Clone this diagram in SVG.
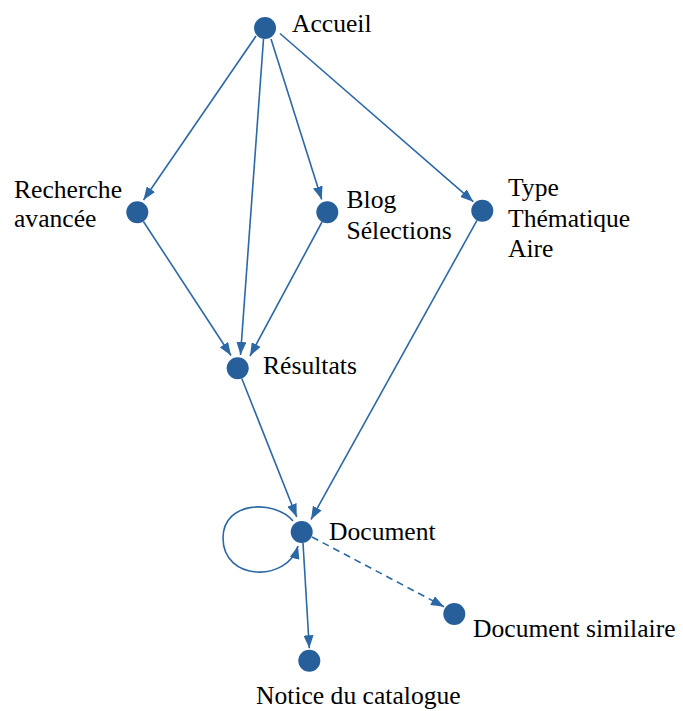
<svg xmlns="http://www.w3.org/2000/svg" width="683" height="711" viewBox="0 0 683 711">
<defs>
<style>
.node{fill:#265f99}
.lbl{font-family:"Liberation Serif","Times New Roman",serif;font-size:25.6px;fill:#000}
.edge{fill:none;stroke:#2d68a6;stroke-width:1.6}
.dash{stroke-dasharray:7 5}
</style>
<marker id="arr" viewBox="0 0 13 10" refX="13" refY="5" markerWidth="13" markerHeight="10" markerUnits="userSpaceOnUse" orient="auto">
<path d="M0,0 L13,5 L0,10 z" fill="#2d68a6"/>
</marker>
</defs>
<rect width="683" height="711" fill="#fff"/>
<g id="connectors">
<line class="edge" x1="256" y1="36" x2="143.5" y2="200" marker-end="url(#arr)"/>
<line class="edge" x1="263.5" y1="39" x2="240.5" y2="355" marker-end="url(#arr)"/>
<line class="edge" x1="271" y1="39" x2="321.7" y2="199.5" marker-end="url(#arr)"/>
<line class="edge" x1="280" y1="33.5" x2="473.3" y2="201.7" marker-end="url(#arr)"/>
<line class="edge" x1="143.4" y1="221.5" x2="231" y2="355.5" marker-end="url(#arr)"/>
<line class="edge" x1="322" y1="222" x2="250" y2="356" marker-end="url(#arr)"/>
<line class="edge" x1="477" y1="220.3" x2="311" y2="519.5" marker-end="url(#arr)"/>
<line class="edge" x1="241.8" y1="378.5" x2="296.7" y2="517" marker-end="url(#arr)"/>
<line class="edge" x1="303" y1="543" x2="309.3" y2="648.3" marker-end="url(#arr)"/>
<line class="edge dash" x1="312" y1="537" x2="444" y2="606.7" marker-end="url(#arr)"/>
<path class="edge" d="M293,521 C276,500 223,500 223,538 C223,582 288,582 298,546" marker-end="url(#arr)"/>
</g>
<g id="accueil"><circle class="node" cx="265" cy="28" r="11"/><text class="lbl" x="292" y="32">Accueil</text></g>
<g id="recherche"><circle class="node" cx="137.3" cy="212.3" r="11"/><text class="lbl" x="14" y="198">Recherche</text><text class="lbl" x="14" y="227">avancée</text></g>
<g id="blog"><circle class="node" cx="327.3" cy="212.3" r="11"/><text class="lbl" x="346.5" y="208">Blog</text><text class="lbl" x="346.5" y="239">Sélections</text></g>
<g id="type"><circle class="node" cx="482.3" cy="210.7" r="11"/><text class="lbl" x="508" y="196">Type</text><text class="lbl" x="508" y="227">Thématique</text><text class="lbl" x="508" y="257">Aire</text></g>
<g id="resultats"><circle class="node" cx="237.7" cy="368.3" r="11"/><text class="lbl" x="263" y="374">Résultats</text></g>
<g id="document"><circle class="node" cx="301.7" cy="532" r="11"/><text class="lbl" x="329" y="540">Document</text></g>
<g id="similaire"><circle class="node" cx="454.3" cy="614" r="11"/><text class="lbl" x="473" y="637">Document similaire</text></g>
<g id="notice"><circle class="node" cx="309.3" cy="660.7" r="11"/><text class="lbl" x="256" y="704">Notice du catalogue</text></g>
</svg>
